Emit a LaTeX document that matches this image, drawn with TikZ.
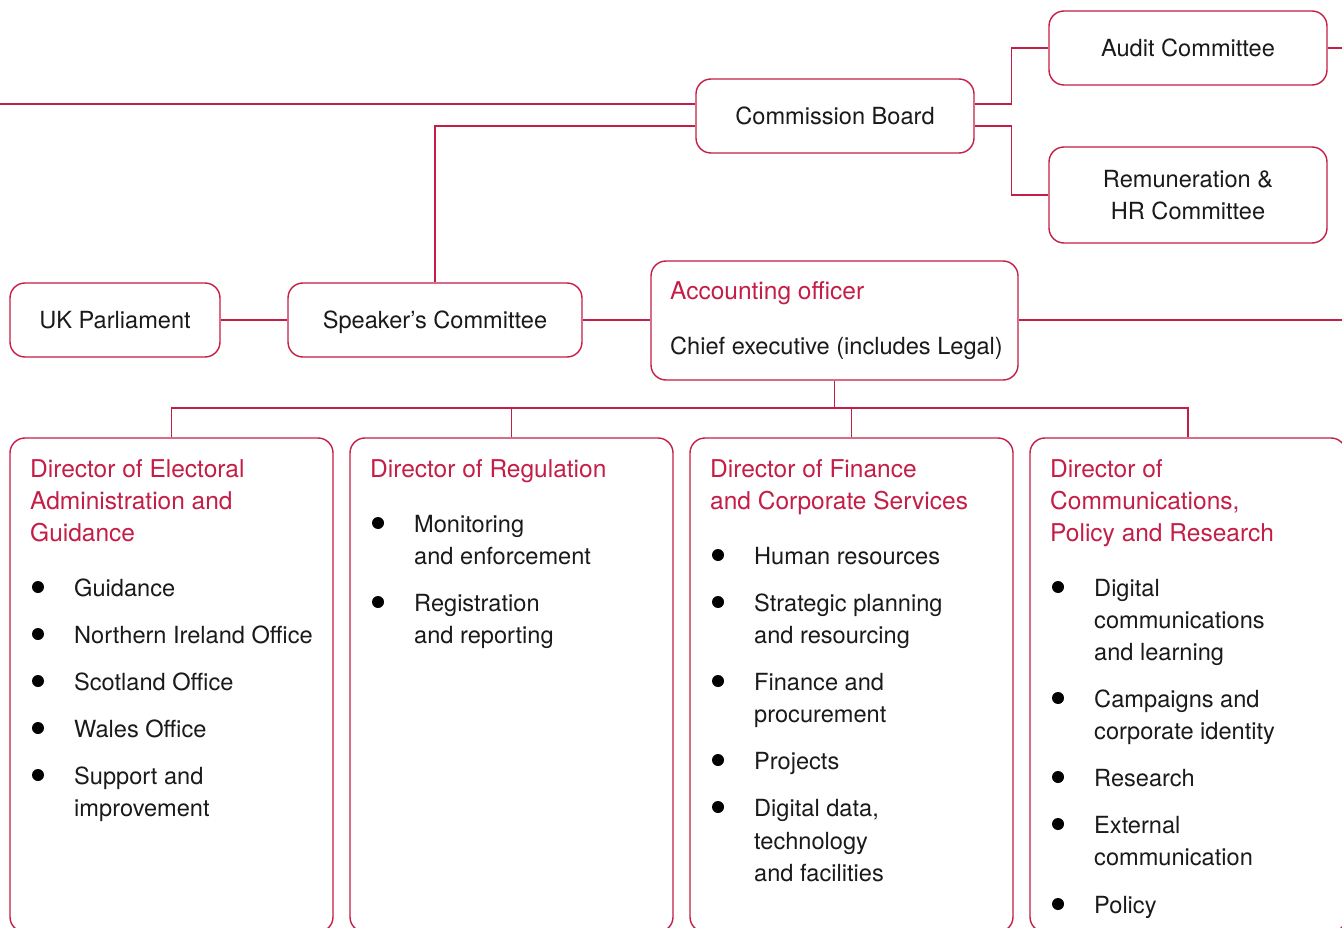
\documentclass[tikz,border=0pt]{standalone}
\usepackage{fontspec}
\setmainfont{TeX Gyre Heros}
\definecolor{ecred}{RGB}{196,30,70}
\definecolor{ectext}{RGB}{26,26,26}
\begin{document}
\begin{tikzpicture}[x=1pt,y=-1pt,
  box/.style={draw=ecred, line width=1.4pt, rounded corners=15pt, fill=white,
    inner sep=0pt, text=ectext, font=\fontsize{23.6}{32}\selectfont,
    text height=16.5pt, text depth=0pt},
  conn/.style={draw=ecred, line width=1.4pt},
  it/.style={anchor=base west, inner sep=0pt, text=ectext, font=\fontsize{23.6}{32}\selectfont},
  rt/.style={it, text=ecred, font=\fontsize{24.5}{32}\selectfont},
  ct/.style={it, anchor=base},
  dot/.style={circle, fill=black, inner sep=0pt, minimum size=12pt}]
\useasboundingbox (0,0) rectangle (1342,928);
\clip (0,0) rectangle (1342,928);

% ---------- free ends ----------
\coordinate (leftend) at (0,104);
\coordinate (rightA) at (1342,48);
\coordinate (rightB) at (1342,320);
\coordinate (bus) at (834.5,408);

% ---------- top boxes ----------
\node[box, minimum width=278pt, minimum height=74pt] (cb) at (835,116) {Commission Board};
\node[box, minimum width=278pt, minimum height=74pt] (ac) at (1188,48) {Audit Committee};
\node[box, minimum width=278pt, minimum height=96pt] (rem) at (1188,195) {};
\node[ct] (rem1) at (1188,188) {Remuneration \&};
\node[ct] (rem2) at (1188,220) {HR Committee};

\node[box, minimum width=210pt, minimum height=74pt] (uk) at (115,320) {UK Parliament};
\node[box, minimum width=294pt, minimum height=74pt] (sc) at (435,320) {Speaker’s Committee};
\node[box, minimum width=367pt, minimum height=119pt] (ao) at (834.5,320.5) {};
\node[rt] (ao1) at (670,300) {Accounting officer};
\node[it] (ao2) at (670,354) {Chief executive (includes Legal)};

% ---------- director boxes ----------
\node[box, minimum width=323pt, minimum height=494pt] (d1) at (171.5,685) {};
\node[box, minimum width=323pt, minimum height=494pt] (d2) at (511.5,685) {};
\node[box, minimum width=323pt, minimum height=494pt] (d3) at (851.5,685) {};
\node[box, minimum width=316pt, minimum height=494pt] (d4) at (1188,685) {};

% ---------- connectors ----------
\draw[conn] (leftend) -- ([yshift=12pt]cb.west);
\draw[conn] ([yshift=-10pt]cb.west) -| (sc.north);
\draw[conn] ([yshift=12pt]cb.east) -- ++(37,0) |- (ac.west);
\draw[conn] ([yshift=-10pt]cb.east) -- ++(37,0) |- (rem.west);
\draw[conn] (ac.east) -- (rightA);
\draw[conn] (uk.east) -- (sc.west);
\draw[conn] (sc.east) -- (sc.east -| ao.west);
\draw[conn] (ao.east |- rightB) -- (rightB);
\draw[conn] (ao.south) -- (bus);
\draw[conn] (d1.north) -- (d1.north |- bus) -- (d4.north |- bus) -- (d4.north);
\draw[conn] (d2.north) -- (d2.north |- bus);
\draw[conn] (d3.north) -- (d3.north |- bus);

% ---------- box 1 ----------
\node[rt] (h1a) at (30,477) {Director of Electoral};
\node[rt] (h1b) at (30,509) {Administration and};
\node[rt] (h1c) at (30,541) {Guidance};
\node[dot] (b1a) at (38,587) {};
\node[it] (t1a) at (74,596) {Guidance};
\node[dot] (b1b) at (38,634) {};
\node[it] (t1b) at (74,643) {Northern Ireland Office};
\node[dot] (b1c) at (38,681) {};
\node[it] (t1c) at (74,690) {Scotland Office};
\node[dot] (b1d) at (38,728) {};
\node[it] (t1d) at (74,737) {Wales Office};
\node[dot] (b1e) at (38,775) {};
\node[it] (t1e) at (74,784) {Support and};
\node[it] (t1f) at (74,816) {improvement};

% ---------- box 2 ----------
\node[rt] (h2a) at (370,477) {Director of Regulation};
\node[dot] (b2a) at (378,523) {};
\node[it] (t2a) at (414,532) {Monitoring};
\node[it] (t2b) at (414,564) {and enforcement};
\node[dot] (b2b) at (378,602) {};
\node[it] (t2c) at (414,611) {Registration};
\node[it] (t2d) at (414,643) {and reporting};

% ---------- box 3 ----------
\node[rt] (h3a) at (710,477) {Director of Finance};
\node[rt] (h3b) at (710,509) {and Corporate Services};
\node[dot] (b3a) at (718,555) {};
\node[it] (t3a) at (754,564) {Human resources};
\node[dot] (b3b) at (718,602) {};
\node[it] (t3b) at (754,611) {Strategic planning};
\node[it] (t3c) at (754,643) {and resourcing};
\node[dot] (b3c) at (718,681) {};
\node[it] (t3d) at (754,690) {Finance and};
\node[it] (t3e) at (754,722) {procurement};
\node[dot] (b3d) at (718,760) {};
\node[it] (t3f) at (754,769) {Projects};
\node[dot] (b3e) at (718,807) {};
\node[it] (t3g) at (754,816) {Digital data,};
\node[it] (t3h) at (754,849) {technology};
\node[it] (t3i) at (754,881) {and facilities};

% ---------- box 4 ----------
\node[rt] (h4a) at (1050,477) {Director of};
\node[rt] (h4b) at (1050,509) {Communications,};
\node[rt] (h4c) at (1050,541) {Policy and Research};
\node[dot] (b4a) at (1058,587) {};
\node[it] (t4a) at (1094,596) {Digital};
\node[it] (t4b) at (1094,628) {communications};
\node[it] (t4c) at (1094,660) {and learning};
\node[dot] (b4b) at (1058,698) {};
\node[it] (t4d) at (1094,707) {Campaigns and};
\node[it] (t4e) at (1094,739) {corporate identity};
\node[dot] (b4c) at (1058,777) {};
\node[it] (t4f) at (1094,786) {Research};
\node[dot] (b4d) at (1058,824) {};
\node[it] (t4g) at (1094,833) {External};
\node[it] (t4h) at (1094,865) {communication};
\node[dot] (b4e) at (1058,904) {};
\node[it] (t4i) at (1094,913) {Policy};
\end{tikzpicture}
\end{document}
